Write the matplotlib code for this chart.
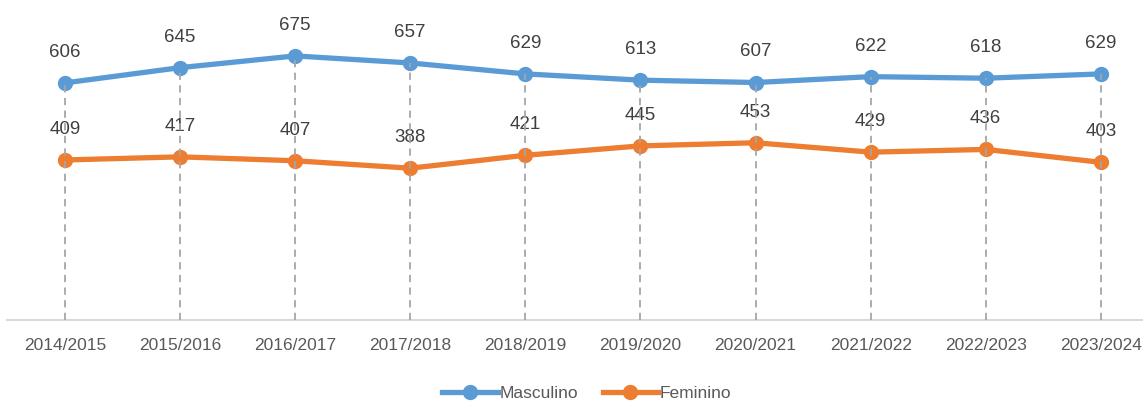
import matplotlib.pyplot as plt
import numpy as np

anos = ['2014/2015', '2015/2016', '2016/2017', '2017/2018', '2018/2019',
        '2019/2020', '2020/2021', '2021/2022', '2022/2023', '2023/2024']
masculino = [606, 645, 675, 657, 629, 613, 607, 622, 618, 629]
feminino = [409, 417, 407, 388, 421, 445, 453, 429, 436, 403]

azul = '#5B9BD5'
laranja = '#ED7D31'

plt.rcParams['font.family'] = ['Liberation Sans', 'DejaVu Sans']

fig = plt.figure(figsize=(11.43, 4.01), dpi=100)
# eixo passa um pouco da borda direita, como no original
ax = fig.add_axes([7.4 / 1143, 1 - 320 / 401, 1151 / 1143, 313 / 401])

x = np.arange(len(anos))
ax.plot(x, masculino, color=azul, lw=3.8, marker='o', ms=10, label='Masculino', zorder=3)
ax.plot(x, feminino, color=laranja, lw=3.8, marker='o', ms=10, label='Feminino', zorder=3)

# linhas de chamada tracejadas
for i in x:
    topo = max(masculino[i], feminino[i])
    ax.plot([i, i], [0, topo], color='#A6A6A6', lw=1.3, ls=(0, (4, 3)), zorder=4)

for i in x:
    ax.annotate(str(masculino[i]), (i, masculino[i]), xytext=(0, 22), textcoords='offset points',
                ha='center', va='center', fontsize=13.5, color='#404040')
    ax.annotate(str(feminino[i]), (i, feminino[i]), xytext=(0, 22), textcoords='offset points',
                ha='center', va='center', fontsize=13.5, color='#404040')

ax.set_xlim(-0.5, len(anos) - 0.5)
ax.set_ylim(0, 800)
ax.set_xticks(x)
ax.set_xticklabels(anos, fontsize=12.5, color='#595959')
ax.tick_params(axis='x', length=0, pad=13)
ax.set_yticks([])
for s in ['top', 'right', 'left']:
    ax.spines[s].set_visible(False)
ax.spines['bottom'].set_color('#D9D9D9')
ax.spines['bottom'].set_linewidth(1.5)

fig.legend(loc='center', bbox_to_anchor=(587 / 1143, 1 - 393 / 401), ncol=2, frameon=False,
           fontsize=12.5, labelcolor='#595959', handlelength=3.2, handletextpad=0.1,
           columnspacing=1.4, numpoints=1)

plt.savefig('out.png', dpi=100)
